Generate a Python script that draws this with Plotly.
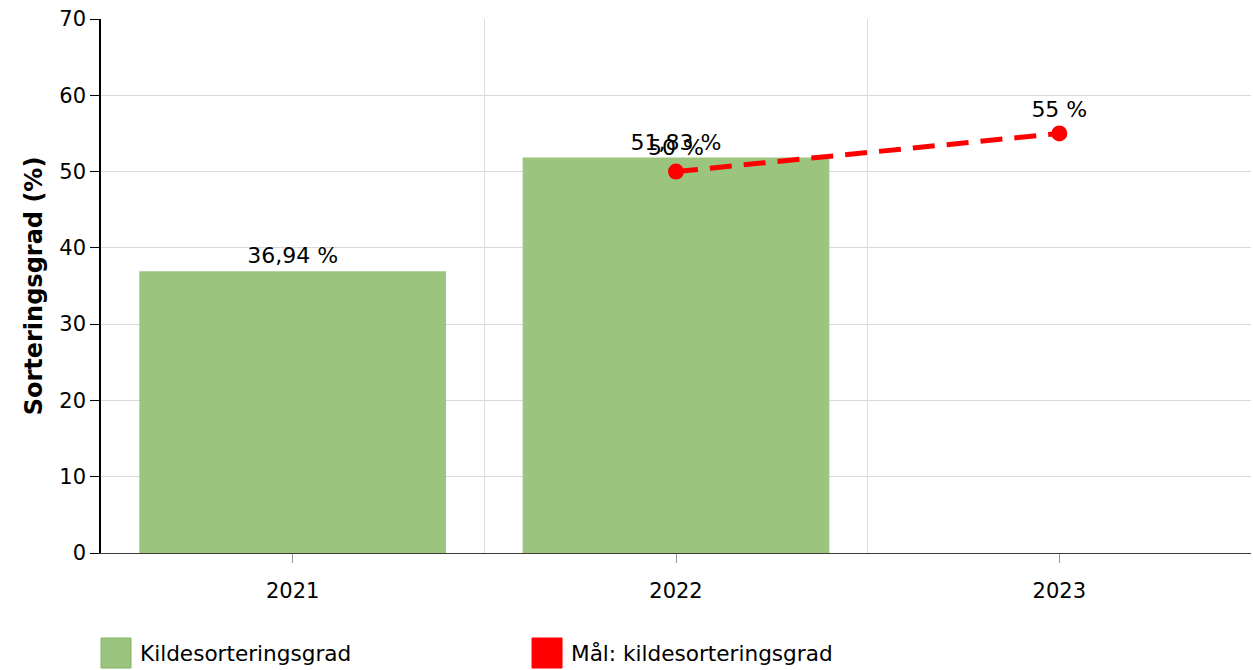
import plotly.graph_objects as go

years = ["2021", "2022", "2023"]
sort_years = ["2021", "2022"]
sort_values = [36.94, 51.83]
goal_years = ["2022", "2023"]
goal_values = [50, 55]
y_ticks = [0, 10, 20, 30, 40, 50, 60, 70]

FONT = "DejaVu Sans"
GREEN = "rgb(155,196,127)"
RED = "rgb(255,0,0)"
FS = 21

def fmt(v):
    s = ("%.2f" % v).rstrip("0").rstrip(".")
    return s.replace(".", ",") + " %"

xpos = {y: i for i, y in enumerate(years)}

fig = go.Figure()
fig.add_trace(go.Bar(
    x=[xpos[y] for y in sort_years], y=sort_values,
    width=0.8,
    marker=dict(color=GREEN, line=dict(width=0)),
    text=[fmt(v) for v in sort_values], textposition="outside",
    textfont=dict(family=FONT, size=22, color="black"),
    cliponaxis=False, showlegend=False,
))
fig.add_trace(go.Scatter(
    x=[xpos[y] for y in goal_years], y=goal_values,
    mode="lines+markers+text",
    line=dict(color=RED, width=5, dash="22px,12px"),
    marker=dict(color=RED, size=16),
    text=[fmt(v) for v in goal_values], textposition="top center",
    textfont=dict(family=FONT, size=22, color="black"),
    cliponaxis=False, showlegend=False,
))

# manual legend
legend = [("Kildesorteringsgrad", GREEN, "rgb(130,180,100)", 0.0),
          ("Mål: kildesorteringsgrad", RED, RED, 0.3748)]
for name, fill, edge, px in legend:
    fig.add_shape(type="rect", xref="paper", yref="paper",
                  x0=px, x1=px + 0.0261, y0=-0.1592, y1=-0.2154,
                  fillcolor=fill, line=dict(color=edge, width=1))
    fig.add_annotation(xref="paper", yref="paper", x=px + 0.032, y=-0.1873,
                       text=name, showarrow=False, xanchor="left", yanchor="middle",
                       font=dict(family=FONT, size=21.6, color="black"))

fig.update_layout(
    width=1253, height=670,
    margin=dict(l=101, r=2, t=19, b=117),
    plot_bgcolor="white", paper_bgcolor="white",
    font=dict(family=FONT, size=FS, color="black"),
)
fig.update_xaxes(
    range=[-0.5, 2.5], tickvals=list(range(len(years))), ticktext=years,
    showgrid=False, ticks="outside", ticklen=9, tickcolor="rgb(150,150,150)",
    showline=True, linecolor="rgb(60,60,60)", linewidth=1,
    minor=dict(tickvals=[0.5, 1.5], showgrid=True, gridcolor="rgb(220,220,220)",
               gridwidth=1, ticklen=0),
    tickfont=dict(family=FONT, size=FS),
    ticklabelstandoff=10,
    zeroline=False,
)
fig.update_yaxes(
    range=[0, 70], tickvals=y_ticks,
    showgrid=True, gridcolor="rgb(217,217,217)", gridwidth=1,
    ticks="outside", ticklen=9, tickcolor="black",
    showline=True, linecolor="black", linewidth=1.5,
    title=dict(text="<b>Sorteringsgrad (%)</b>", font=dict(family=FONT, size=24), standoff=10),
    tickfont=dict(family=FONT, size=FS),
    zeroline=False,
)

fig.write_html("out.html", config={"displayModeBar": False},
               post_script="document.body.style.margin='0';document.body.style.overflow='hidden';")
